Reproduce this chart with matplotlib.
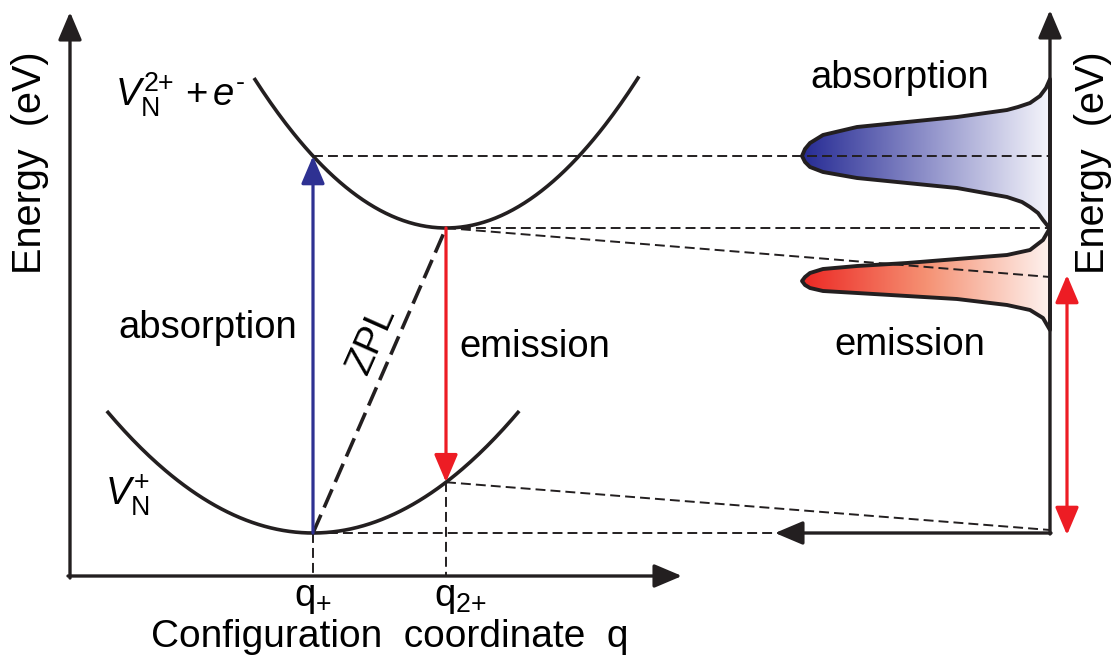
import numpy as np
import matplotlib
matplotlib.use('Agg')
import matplotlib.pyplot as plt
from matplotlib.patches import Polygon
from matplotlib.colors import LinearSegmentedColormap

plt.rcParams['font.family'] = ['Liberation Sans', 'DejaVu Sans']
plt.rcParams['mathtext.fontset'] = 'custom'
plt.rcParams['mathtext.rm'] = 'Liberation Sans'
plt.rcParams['mathtext.it'] = 'Liberation Sans:italic'
plt.rcParams['mathtext.bf'] = 'Liberation Sans:bold'

# diagram units: x = configuration coordinate, E = energy (both schematic)
q_plus = 313
q_2plus = 446
E_plus = 126          # minimum of V_N^+
E_2plus = 431         # minimum of V_N^2+ + e-
k_plus = 0.00287      # curvature of lower parabola
k_2plus = 0.00407     # curvature of upper parabola
q_span_plus = [108, 518]
q_span_2plus = [255, 638]

# axes of the two panels
axis_x0, axis_E0 = 70, 83
axis_q_end, axis_E_end = 682, 647
spec_x = 1050
spec_E_top = 649
spec_arrow_end = 775
E_em_mark = 382       # where the ZPL level maps onto the spectrum axis
E_low_mark = 129
red_arrow_x = 1067

# spectrum outlines (x, energy)
abs_x = [1050, 1046, 1040, 1030, 1018, 1007, 957, 907, 857, 823, 810, 805, 802,
         805, 810, 823, 857, 907, 957, 1007, 1022, 1030, 1038, 1043, 1047, 1050]
abs_E = [580, 571, 563, 556, 552, 549, 542, 537, 532, 524, 516, 510, 503,
         497, 492, 487, 481, 476, 471, 462, 457, 452, 446, 439, 434, 430]
em_x = [1050, 1043, 1030, 1007, 957, 907, 857, 823, 810, 805, 802,
        805, 810, 823, 857, 907, 957, 1007, 1030, 1043, 1050]
em_E = [431, 419, 409, 404, 400, 396, 393, 390, 386, 382, 378,
        374, 371, 368, 366, 363, 360, 354, 349, 341, 329]

ink = '#231f20'
blue = '#2e3192'
red = '#ed1c24'

fig = plt.figure(figsize=(11.16, 6.59), dpi=100)
ax = fig.add_axes([0, 0, 1, 1])


def arrow(tail, tip, color=ink, lw=2.4, style='-|>'):
    ax.annotate('', xy=tip, xytext=tail,
                arrowprops=dict(arrowstyle=style + ',head_length=0.85,head_width=0.36',
                                color=color, lw=lw, shrinkA=0, shrinkB=0,
                                mutation_scale=20), zorder=5)


def dashed(xs, ys, lw=1.4):
    ax.plot(xs, ys, color=ink, lw=lw, ls=(0, (5.1, 2.6)), zorder=4)


# parabolas
q1 = np.linspace(*q_span_plus, 200)
q2 = np.linspace(*q_span_2plus, 200)
ax.plot(q1, E_plus + k_plus * (q1 - q_plus) ** 2, color=ink, lw=2.6, zorder=4)
ax.plot(q2, E_2plus + k_2plus * (q2 - q_2plus) ** 2, color=ink, lw=2.6, zorder=4)

E_abs = E_2plus + k_2plus * (q_plus - q_2plus) ** 2
E_em = E_plus + k_plus * (q_2plus - q_plus) ** 2

# left axes
arrow((axis_x0, axis_E0 - 2), (axis_x0, axis_E_end))
arrow((axis_x0 - 2, axis_E0), (axis_q_end, axis_E0))

# transitions
arrow((q_plus, E_plus), (q_plus, E_abs), color=blue, lw=2.3)
arrow((q_2plus, E_2plus), (q_2plus, E_em), color=red, lw=2.3)
ax.plot([q_plus, q_2plus], [E_plus, E_2plus], color=ink, lw=2.6,
        ls=(0, (5.5, 2.2)), zorder=4)

# guide lines
dashed([q_plus, spec_x], [E_abs, E_abs])
dashed([q_2plus, spec_x], [E_2plus, E_2plus])
dashed([q_2plus, spec_x], [E_2plus, E_em_mark])
dashed([q_2plus, spec_x], [E_em, E_low_mark])
dashed([q_plus, spec_arrow_end + 10], [E_plus, E_plus])
dashed([q_plus, q_plus], [E_plus, axis_E0])
dashed([q_2plus, q_2plus], [E_em, axis_E0])

# right panel axes
arrow((spec_x, E_plus - 1), (spec_x, spec_E_top))
arrow((spec_x + 1, E_plus), (spec_arrow_end, E_plus))
arrow((red_arrow_x, E_plus - 2), (red_arrow_x, E_em_mark + 2), color=red,
      lw=2.3, style='<|-|>')


def shaded_peak(xs, Es, colors):
    poly = Polygon(np.column_stack([xs, Es]), closed=True, facecolor='none',
                   edgecolor=ink, lw=2.8, joinstyle='round', zorder=3)
    ax.add_patch(poly)
    cmap = LinearSegmentedColormap.from_list('g', colors)
    grad = np.linspace(0, 1, 256).reshape(1, -1)
    im = ax.imshow(grad, cmap=cmap, extent=[min(xs), max(xs), min(Es), max(Es)],
                   aspect='auto', origin='lower', interpolation='bilinear', zorder=2)
    im.set_clip_path(poly)


shaded_peak(abs_x, abs_E, ['#262b94', '#8e90c9', '#f5f5fb'])
shaded_peak(em_x, em_E, ['#ec2824', '#f59173', '#fef2ee'])

# text
fs = 27.5
ax.text(30, 496, 'Energy  (eV)', rotation=90, fontsize=28.5, ha='center', va='center')
ax.text(1093, 496, 'Energy  (eV)', rotation=90, fontsize=28.5, ha='center', va='center')
ax.text(208, 331, 'absorption', fontsize=fs, ha='center', va='center')
ax.text(535, 312, 'emission', fontsize=fs, ha='center', va='center')
ax.text(900, 581, 'absorption', fontsize=fs, ha='center', va='center')
ax.text(910, 314, 'emission', fontsize=fs, ha='center', va='center')
ax.text(372, 319, 'ZPL', fontsize=fs, rotation=66, ha='center', va='center')
ax.text(390, 22, 'Configuration  coordinate  q', fontsize=28, ha='center', va='center')
ax.text(q_plus, 61, r'q$_{+}$', fontsize=fs, ha='center', va='center')
ax.text(q_2plus + 14, 61, r'q$_{\text{2+}}$', fontsize=fs, ha='center', va='center')
ax.text(115, 564, r'$V_{\mathrm{N}}^{\text{2+}}\ \text{+}\,e^{\text{-}}$', fontsize=fs,
        ha='left', va='center')
ax.text(105, 164, r'$V_{\mathrm{N}}^{+}$', fontsize=fs, ha='left', va='center')

ax.set_xlim(0, 1116)
ax.set_ylim(0, 659)
ax.axis('off')
fig.savefig('out.png', dpi=100)
